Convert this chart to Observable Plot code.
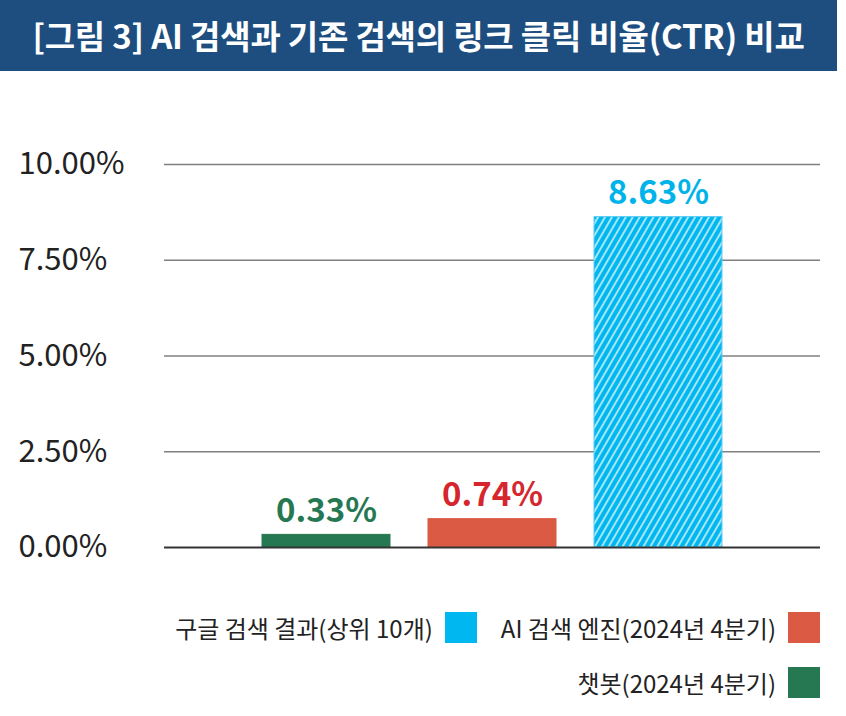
<!DOCTYPE html>
<html><head><meta charset="utf-8">
<script src="https://cdn.jsdelivr.net/npm/d3@7"></script>
<script src="https://cdn.jsdelivr.net/npm/@observablehq/plot@0.6"></script>
<style>
body{margin:0;background:#fff;font-family:"Noto Sans CJK KR","Noto Sans",sans-serif;}
#title{width:837px;height:71px;background:#1d4e7f;color:#fff;font-weight:700;font-size:33px;display:flex;align-items:center;justify-content:center;letter-spacing:-0.2px;padding-bottom:2px;box-sizing:border-box;}
#chart svg{display:block;}
.legend-row{display:flex;justify-content:flex-end;align-items:center;padding-right:26px;height:32px;margin-bottom:23px;}
.item{display:flex;align-items:center;font-size:24px;color:#222;margin-left:24px;}
.sw{width:32px;height:31px;margin-left:12px;}
#legend{padding-top:20px;}
</style></head>
<body>
<div id="title">[그림 3] AI 검색과 기존 검색의 링크 클릭 비율(CTR) 비교</div>
<div id="chart"></div>
<div id="legend"></div>
<script>
const categories = ["챗봇(2024년 4분기)", "AI 검색 엔진(2024년 4분기)", "구글 검색 결과(상위 10개)"];
const values = [0.33, 0.74, 8.63];
const barColors = ["#267852", "#db5a44", "#00b7ef"];
const labelColors = ["#267852", "#d5262e", "#00b4ea"];
const yTicks = [0, 2.5, 5, 7.5, 10];
const legendRows = [[2, 1], [0]];

const data = categories.map((c, i) => ({
  cat: c,
  value: values[i],
  fill: i === 2 ? "url(#hatch)" : barColors[i],
  stroke: i === 2 ? "#5fcdf3" : barColors[i],
  label: labelColors[i]
}));

const plot = Plot.plot({
  width: 846, height: 520,
  marginTop: 93, marginBottom: 44, marginLeft: 164, marginRight: 26,
  style: {fontFamily: "'Noto Sans CJK KR', sans-serif", background: "transparent"},
  x: {domain: categories, axis: null, paddingInner: 0.23, paddingOuter: 0.59},
  y: {domain: [0, 10], axis: null},
  color: {type: "identity"},
  marks: [
    Plot.ruleY(yTicks.filter(d => d > 0), {stroke: "#808080", strokeWidth: 1.5}),
    Plot.text(yTicks, {y: d => d, text: d => d.toFixed(2) + "%", frameAnchor: "left", textAnchor: "start", dx: -146, fontSize: 31, fontWeight: 400, fill: "#222"}),
    Plot.barY(data, {x: "cat", y: "value", fill: "fill", stroke: "stroke", strokeWidth: 1}),
    Plot.ruleY([0], {stroke: "#333", strokeWidth: 2}),
    Plot.text(data, {x: "cat", y: "value", text: d => d.value.toFixed(2) + "%", fill: "label", lineAnchor: "bottom", dy: -13, fontSize: 33, fontWeight: 700})
  ]
});

const svg = d3.select(plot);
const defs = svg.insert("defs", ":first-child");
const pat = defs.append("pattern").attr("id", "hatch").attr("patternUnits", "userSpaceOnUse")
  .attr("width", 6).attr("height", 6).attr("patternTransform", "rotate(30)");
pat.append("rect").attr("width", 6).attr("height", 6).attr("fill", barColors[2]);
pat.append("line").attr("x1", 3).attr("y1", 0).attr("x2", 3).attr("y2", 6).attr("stroke", "#fff").attr("stroke-width", 1.3);

document.getElementById("chart").appendChild(plot);

const legend = document.getElementById("legend");
legendRows.forEach(row => {
  const r = document.createElement("div");
  r.className = "legend-row";
  row.forEach(i => {
    const it = document.createElement("div");
    it.className = "item";
    const t = document.createElement("span");
    t.textContent = categories[i];
    const s = document.createElement("span");
    s.className = "sw";
    s.style.background = barColors[i];
    it.appendChild(t); it.appendChild(s);
    r.appendChild(it);
  });
  legend.appendChild(r);
});
</script>
</body></html>
